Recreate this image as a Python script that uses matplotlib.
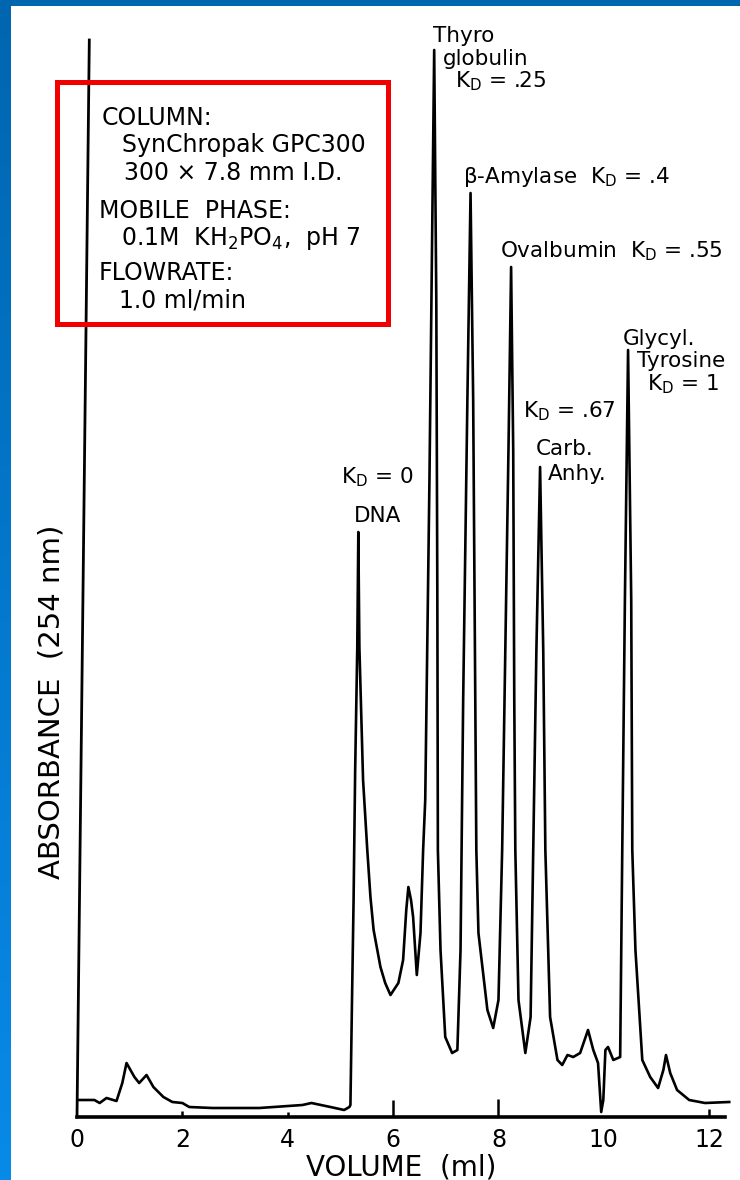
import matplotlib.pyplot as plt
import numpy as np
from matplotlib.patches import Rectangle

# elution trace: volume (ml) and absorbance at 254 nm (arbitrary units)
volume = [0.03, 0.33, 0.43, 0.56, 0.75, 0.86, 0.94, 1.09, 1.18, 1.32, 1.45, 1.64, 1.81,
          2.00, 2.13, 2.57, 3.46, 4.28, 4.45, 4.81, 5.07, 5.17,
          5.19, 5.22, 5.25, 5.28, 5.32, 5.34, 5.36, 5.43, 5.51, 5.57, 5.63, 5.76, 5.85,
          5.95, 6.10, 6.19, 6.25, 6.29, 6.34, 6.38, 6.45, 6.52, 6.57, 6.61, 6.69, 6.78,
          6.82, 6.84, 6.85, 6.90, 6.99, 7.12, 7.22, 7.28, 7.33, 7.41, 7.47,
          7.52, 7.56, 7.58, 7.62, 7.79, 7.90, 8.00, 8.07, 8.13, 8.19, 8.24,
          8.28, 8.30, 8.32, 8.38, 8.51, 8.61, 8.66, 8.72, 8.79,
          8.85, 8.89, 8.98, 9.12, 9.21, 9.31, 9.42, 9.55, 9.70, 9.80, 9.89, 9.95, 9.99,
          10.03, 10.08, 10.18, 10.31, 10.35, 10.40, 10.46,
          10.52, 10.54, 10.60, 10.73, 10.88, 11.03, 11.13, 11.18, 11.26, 11.39, 11.62,
          11.92, 12.38]
absorbance = [0.017, 0.017, 0.014, 0.019, 0.016, 0.034, 0.054, 0.040, 0.034, 0.042, 0.030, 0.020, 0.015,
              0.014, 0.010, 0.009, 0.009, 0.012, 0.014, 0.010, 0.007, 0.010,
              0.012, 0.117, 0.217, 0.347, 0.470, 0.585, 0.470, 0.337, 0.267, 0.220, 0.187, 0.150, 0.134,
              0.122, 0.134, 0.157, 0.207, 0.230, 0.217, 0.200, 0.142, 0.184, 0.267, 0.317, 0.637, 1.067,
              0.817, 0.517, 0.267, 0.167, 0.080, 0.064, 0.067, 0.167, 0.417, 0.717, 0.924,
              0.717, 0.417, 0.267, 0.184, 0.107, 0.089, 0.117, 0.267, 0.467, 0.667, 0.850,
              0.667, 0.417, 0.267, 0.117, 0.064, 0.100, 0.267, 0.467, 0.650,
              0.467, 0.267, 0.100, 0.057, 0.052, 0.062, 0.060, 0.064, 0.087, 0.067, 0.054, 0.005, 0.017,
              0.067, 0.070, 0.057, 0.060, 0.267, 0.517, 0.767,
              0.517, 0.267, 0.167, 0.057, 0.040, 0.029, 0.047, 0.062, 0.044, 0.027, 0.017,
              0.014, 0.015]

xticks = [0, 2, 4, 6, 8, 10, 12]
tick_len = [0, 0.006, 0.005, 0.017, 0.018, 0.0, 0.008]

# peak annotations: text, x (ml), baseline height
peak_labels = [
    ('Thyro', 6.75, 1.075),
    ('globulin', 6.95, 1.052),
    (r'K$_D$ = .25', 7.18, 1.030),
    (r'$\beta$-Amylase  K$_D$ = .4', 7.33, 0.934),
    (r'Ovalbumin  K$_D$ = .55', 8.03, 0.860),
    (r'K$_D$ = .67', 8.47, 0.700),
    ('Carb.', 8.70, 0.662),
    ('Anhy.', 8.94, 0.637),
    ('Glycyl.', 10.35, 0.772),
    ('Tyrosine', 10.63, 0.750),
    (r'K$_D$ = 1', 10.82, 0.727),
    (r'K$_D$ = 0', 5.02, 0.634),
    ('DNA', 5.25, 0.595),
]

conditions = [
    ('COLUMN:', 102, 125),
    ('SynChropak GPC300', 122, 152),
    ('300 × 7.8 mm I.D.', 124, 180),
    ('MOBILE  PHASE:', 99, 218),
    (r'0.1M  KH$_2$PO$_4$,  pH 7', 121, 245),
    ('FLOWRATE:', 99, 280),
    ('1.0 ml/min', 119, 307),
]

plt.rcParams['font.family'] = 'DejaVu Sans'
plt.rcParams['mathtext.default'] = 'regular'

W, H = 740, 1180
fig = plt.figure(figsize=(W / 100, H / 100), dpi=100)
fig.patch.set_facecolor('white')

x0, x1, ytop, ybot = 77, 725, 40, 1117
ax = fig.add_axes([x0 / W, (H - ybot) / H, (x1 - x0) / W, (ybot - ytop) / H])
ax.set_xlim(0, 12.3)
ax.set_ylim(0, 1.077)
for s in ['top', 'right', 'left']:
    ax.spines[s].set_visible(False)
ax.spines['bottom'].set_linewidth(2.6)
ax.set_yticks([])
ax.set_xticks(xticks)
ax.set_xticklabels([str(t) for t in xticks], fontsize=17)
ax.tick_params(axis='x', length=0, pad=8)
ax.patch.set_alpha(0)

# hand-drawn y axis leans slightly to the right
ax.plot([0, 0.019], [0, 1], transform=ax.transAxes, color='black', lw=2.0, clip_on=False)

ax.vlines(xticks, 0, tick_len, color='black', lw=1.8)
ax.plot(volume, absorbance, color='black', lw=1.9, clip_on=False, solid_joinstyle='round')

for txt, x, y in peak_labels:
    ax.text(x, y, txt, fontsize=15.5, ha='left', va='baseline')

ax.set_xlabel('VOLUME  (ml)', fontsize=20, labelpad=1)
fig.text(52 / W, 1 - 702 / H, 'ABSORBANCE  (254 nm)', rotation=90, fontsize=21,
         ha='center', va='center')

# run conditions box
for txt, x, y in conditions:
    fig.text(x / W, 1 - y / H, txt, fontsize=17, ha='left', va='baseline')
fig.patches.append(Rectangle((57 / W, 1 - 324 / H), 331 / W, 242 / H, transform=fig.transFigure,
                             fill=False, edgecolor='#f00000', lw=3.6))

# blue frame along the top and left edge
fig.patches.append(Rectangle((0, 1 - 6 / H), 1, 6 / H, transform=fig.transFigure,
                             color='#0066b0', lw=0))
band = fig.add_axes([0, 0, 11 / W, 1])
grad = np.linspace(0, 1, 256).reshape(-1, 1)
top_c = np.array([0, 102, 176]) / 255
bot_c = np.array([8, 138, 232]) / 255
img = top_c + (bot_c - top_c) * grad[:, :, None]
band.imshow(img, aspect='auto', extent=[0, 1, 0, 1], origin='upper')
band.axis('off')

fig.savefig('out.png', dpi=100)
